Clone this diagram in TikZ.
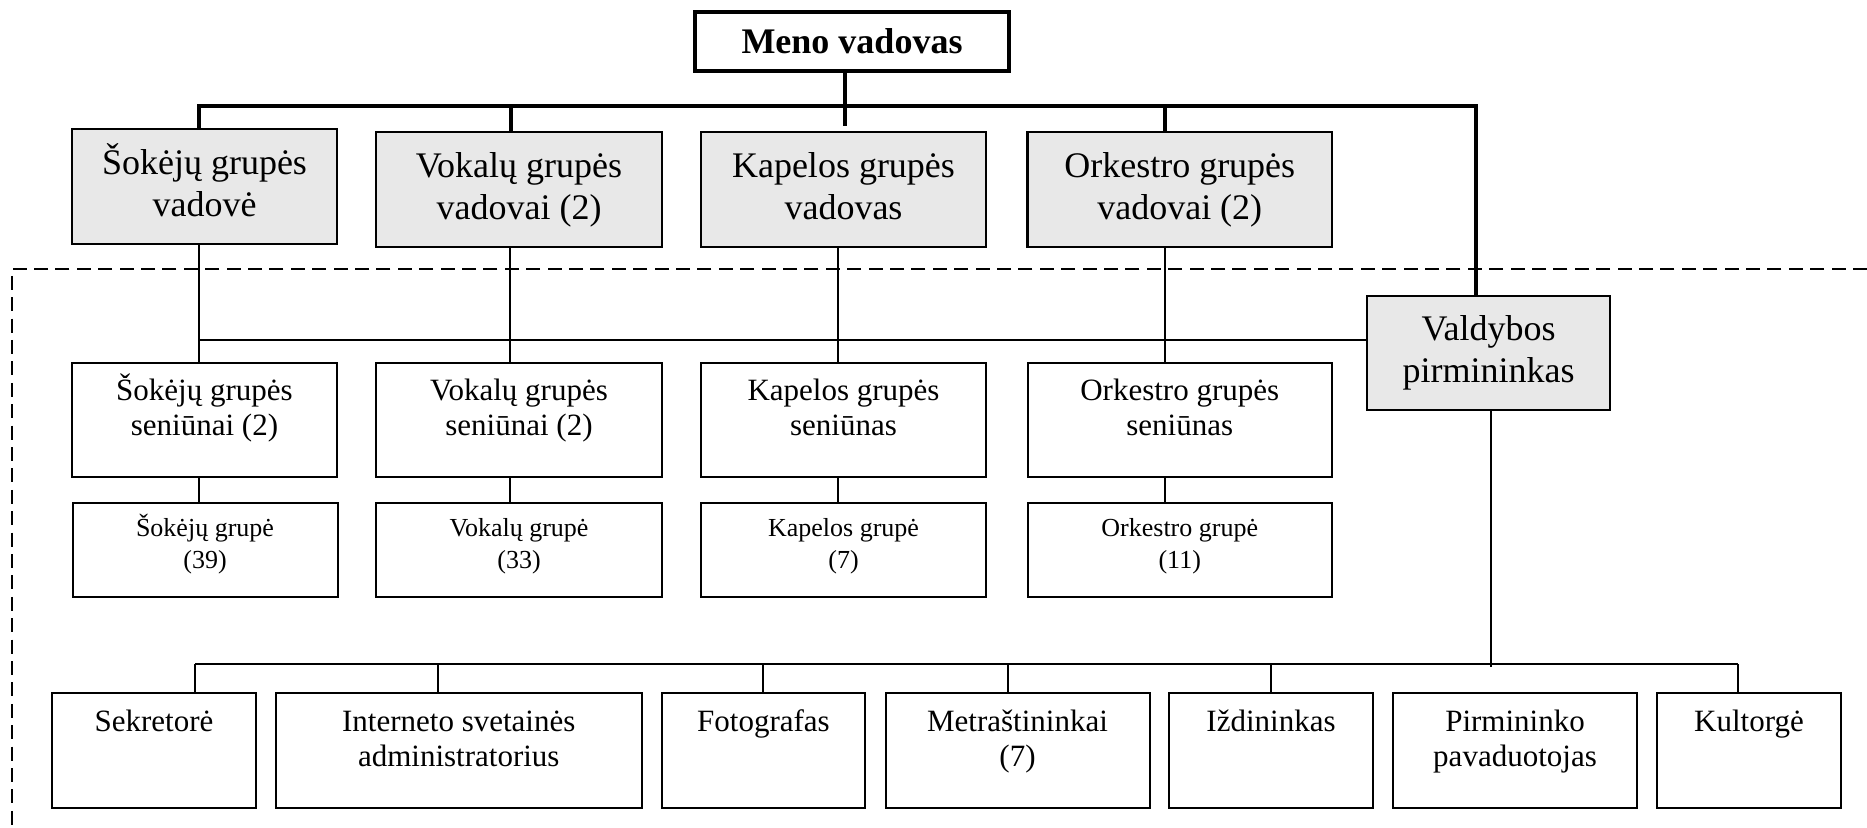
\documentclass[tikz,border=0pt]{standalone}
\usepackage{fontspec}
\setmainfont{Liberation Serif}
\definecolor{boxgray}{RGB}{232,232,232}
\newcommand\capH{\vphantom{Š}}
\newcommand\dscH{\vphantom{p}}
\begin{document}
\begin{tikzpicture}[x=0.5pt,y=-0.5pt,
  box/.style={draw, line width=1pt, inner sep=0pt, outer sep=0pt, align=center},
  gbox/.style={box, fill=boxgray, line width=1.2pt, minimum height=57.5pt, font=\fontsize{18}{21}\selectfont},
  bbox/.style={box, minimum height=57pt},
  cbox/.style={box, minimum height=47pt},
  dbox/.style={box, minimum height=57.5pt},
  txt/.style={inner sep=0pt, outer sep=0pt, anchor=north, align=center},
  btxt/.style={txt, font=\fontsize{15.5}{17.5}\selectfont},
  ctxt/.style={txt, font=\fontsize{13}{15.8}\selectfont},
  dtxt/.style={txt, font=\fontsize{15.5}{17.5}\selectfont},
  thk/.style={line width=1.7pt},
  thn/.style={line width=0.9pt},
  dsh/.style={line width=1.1pt, dash pattern=on 7pt off 3.7pt}]
\useasboundingbox (0,0) rectangle (1867,828);

% dashed frame
\draw[dsh] (1867,269) -- (12,269) -- (12,828);

% top
\node[box, line width=2pt, minimum width=157pt, minimum height=29.5pt, font=\bfseries\fontsize{18}{21}\selectfont] (Meno) at (852,41.5) {Meno vadovas};

\node[gbox, minimum width=132.5pt] (A1) at (204.5,186.5) {\smash{Š}okėjų grupės\\vadovė\dscH};
\node[gbox, minimum width=143pt] (A2) at (519,189.5) {Vokalų grupės\\vadovai (2)};
\node[gbox, minimum width=142.5pt] (A3) at (843.5,189.5) {Kapelos grupės\\vadovas\dscH};
\node[gbox, minimum width=152.25pt] (A4) at (1179.75,189.5) {Orkestro grupės\\vadovai (2)};

\node[gbox, minimum width=121.5pt, minimum height=57pt] (V) at (1488.5,353) {Valdybos\\pirmininkas};

% seniunai
\node[bbox, minimum width=132.5pt] (B1) at (204.5,420) {};
\node[bbox, minimum width=143pt] (B2) at (519,420) {};
\node[bbox, minimum width=142.5pt] (B3) at (843.5,420) {};
\node[bbox, minimum width=152.25pt] (B4) at (1179.75,420) {};
\node[btxt] (tB1) at (204.5,373.8) {Šokėjų grupės\\seniūnai (2)};
\node[btxt] (tB2) at (519,373.8) {\capH Vokalų grupės\\seniūnai (2)};
\node[btxt] (tB3) at (843.5,373.8) {\capH Kapelos grupės\\seniūnas};
\node[btxt] (tB4) at (1179.75,373.8) {\capH Orkestro grupės\\seniūnas};

% groups
\node[cbox, minimum width=132.5pt] (C1) at (205,550) {};
\node[cbox, minimum width=143pt] (C2) at (519,550) {};
\node[cbox, minimum width=142.5pt] (C3) at (843.5,550) {};
\node[cbox, minimum width=152.25pt] (C4) at (1179.75,550) {};
\node[ctxt] (tC1) at (205,514.5) {Šokėjų grupė\\(39)};
\node[ctxt] (tC2) at (519,514.5) {\capH Vokalų grupė\\(33)};
\node[ctxt] (tC3) at (843.5,514.5) {\capH Kapelos grupė\\(7)};
\node[ctxt] (tC4) at (1179.75,514.5) {\capH Orkestro grupė\\(11)};

% bottom row
\node[dbox, minimum width=102pt] (D1) at (154,750.5) {};
\node[dbox, minimum width=182.75pt] (D2) at (458.75,750.5) {};
\node[dbox, minimum width=101.5pt] (D3) at (763.5,750.5) {};
\node[dbox, minimum width=132pt] (D4) at (1017.5,750.5) {};
\node[dbox, minimum width=102pt] (D5) at (1271,750.5) {};
\node[dbox, minimum width=122pt] (D6) at (1515,750.5) {};
\node[dbox, minimum width=92pt] (D7) at (1749,750.5) {};
\node[dtxt] (tD1) at (154,705) {\capH Sekretorė};
\node[dtxt] (tD2) at (458.75,705) {\capH Interneto svetainės\\administratorius};
\node[dtxt] (tD3) at (763.5,705) {\capH Fotografas};
\node[dtxt] (tD4) at (1017.5,705) {\capH Metraštininkai\\(7)};
\node[dtxt] (tD5) at (1271,705) {\capH Iždininkas};
\node[dtxt] (tD6) at (1515,705) {\capH Pirmininko\\pavaduotojas};
\node[dtxt] (tD7) at (1749,705) {\capH Kultorgė};

% coordinates for line positions
\coordinate (busL) at (199,106);
\coordinate (busR) at (1476,106);
\coordinate (k) at (845,126);
\coordinate (v2) at (511,0);
\coordinate (v4) at (1165,0);
\coordinate (l1) at (199,0);
\coordinate (l2) at (510,0);
\coordinate (l3) at (838,0);
\coordinate (l4) at (1165,0);
\coordinate (h) at (0,340);
\coordinate (vd) at (1491,667);
\coordinate (bus2) at (0,664);
\coordinate (d1) at (195,0);
\coordinate (d2) at (438,0);
\coordinate (d3) at (763,0);
\coordinate (d4) at (1008,0);
\coordinate (d5) at (1271,0);
\coordinate (d7) at (1738,0);

% thick connectors
\draw[thk] (busL |- A1.north) -- (busL) -- (busR) -- (busR |- V.north);
\draw[thk] (v2 |- busL) -- (v2 |- A2.north);
\draw[thk] (v4 |- busL) -- (v4 |- A4.north);
\draw[thk] (k |- Meno.south) -- (k);

% thin connectors
\draw[thn] (l1 |- A1.south) -- (l1 |- B1.north);
\draw[thn] (l2 |- A2.south) -- (l2 |- B2.north);
\draw[thn] (l3 |- A3.south) -- (l3 |- B3.north);
\draw[thn] (l4 |- A4.south) -- (l4 |- B4.north);
\draw[thn] (l1 |- h) -- (V.west |- h);
\draw[thn] (l1 |- B1.south) -- (l1 |- C1.north);
\draw[thn] (l2 |- B2.south) -- (l2 |- C2.north);
\draw[thn] (l3 |- B3.south) -- (l3 |- C3.north);
\draw[thn] (l4 |- B4.south) -- (l4 |- C4.north);

\draw[thn] (vd |- V.south) -- (vd);
\draw[thn] (d1 |- bus2) -- (d7 |- bus2);
\draw[thn] (d1 |- bus2) -- (d1 |- D1.north);
\draw[thn] (d2 |- bus2) -- (d2 |- D2.north);
\draw[thn] (d3 |- bus2) -- (d3 |- D3.north);
\draw[thn] (d4 |- bus2) -- (d4 |- D4.north);
\draw[thn] (d5 |- bus2) -- (d5 |- D5.north);
\draw[thn] (d7 |- bus2) -- (d7 |- D7.north);
\end{tikzpicture}
\end{document}
